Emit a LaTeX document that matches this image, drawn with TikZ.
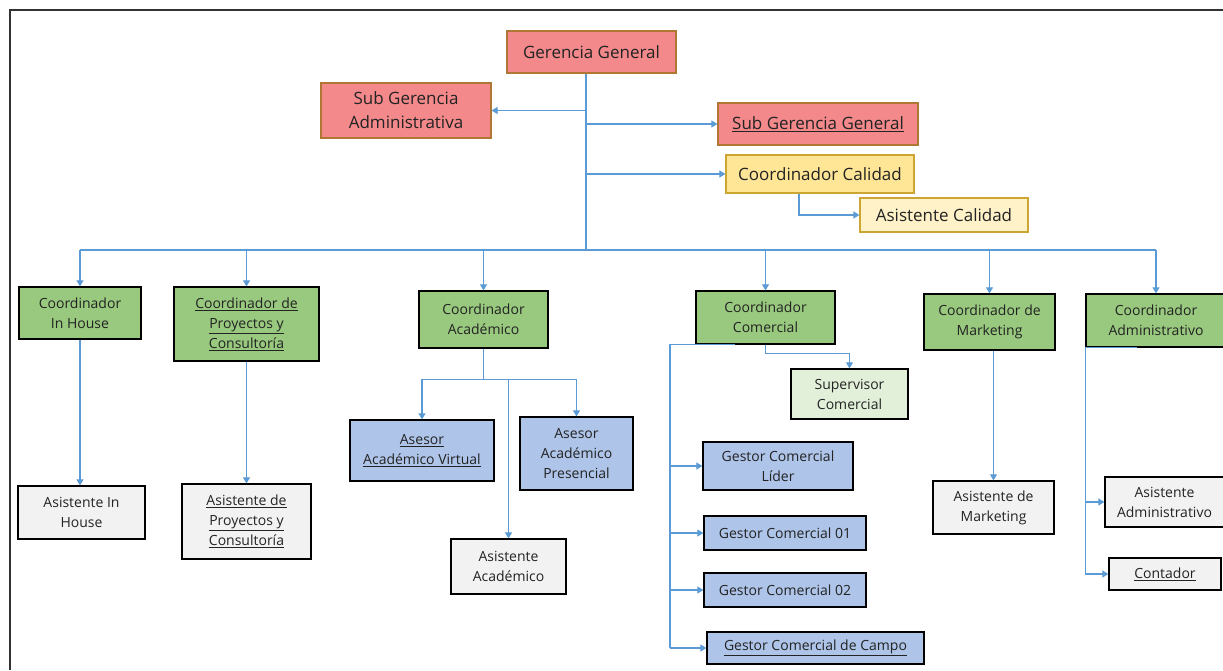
\documentclass[tikz,border=0pt]{standalone}
\usepackage{fontspec}
\setmainfont{Open Sans}
\usetikzlibrary{arrows.meta,calc}
\definecolor{pinkf}{RGB}{243,137,139}
\definecolor{pinkd}{RGB}{176,118,52}
\definecolor{yelf}{RGB}{255,229,150}
\definecolor{yellf}{RGB}{255,242,200}
\definecolor{yeld}{RGB}{205,165,50}
\definecolor{greenf}{RGB}{152,201,126}
\definecolor{lgreenf}{RGB}{226,240,217}
\definecolor{bluef}{RGB}{174,196,232}
\definecolor{grayf}{RGB}{242,242,242}
\definecolor{lb}{RGB}{91,155,213}
\definecolor{txt}{RGB}{35,35,35}
\definecolor{frame}{RGB}{50,50,50}
\begin{document}
\begin{tikzpicture}[x=1pt,y=-1pt,
  base/.style={align=center, inner sep=2pt, text=txt},
  big/.style={base, font=\fontsize{17}{24}\selectfont},
  small/.style={base, font=\fontsize{14}{20}\selectfont},
  pinkbox/.style={big, draw=pinkd, fill=pinkf, line width=1.2pt},
  yelbox/.style={big, draw=yeld, fill=yelf, line width=1.2pt},
  yellbox/.style={big, draw=yeld, fill=yellf, line width=1.2pt},
  greenbox/.style={small, draw=black, fill=greenf, line width=1.3pt},
  lgreenbox/.style={small, draw=black, fill=lgreenf, line width=1.3pt},
  bluebox/.style={small, draw=black, fill=bluef, line width=1.3pt},
  graybox/.style={small, draw=black, fill=grayf, line width=1.3pt},
  wh/.style 2 args={minimum width=#1pt, minimum height=#2pt},
  trunk/.style={draw=lb, line width=2.6pt},
  busline/.style={draw=lb, line width=2pt},
  line/.style={draw=lb, line width=1.2pt},
  conn/.style={draw=lb, line width=1.1pt, -{Triangle[width=7pt,length=6pt]}}
]
\useasboundingbox (0,0) rectangle (1223,670);
\fill[white] (0,0) rectangle (1223,670);
\draw[frame, line width=2pt] (10,670) -- (10,10) -- (1223,10);

% top level
\node[pinkbox, wh={169}{42}] (gg) at (591.5,52) {Gerencia General};
\node[pinkbox, wh={170}{55}] (sga) at (406,110.5) {Sub Gerencia\\Administrativa};
\node[pinkbox, wh={200}{42}] (sgg) at (818,124) {\underline{Sub Gerencia General}};
\node[yelbox, wh={188}{38}] (cc) at (820,174) {Coordinador Calidad};
\node[yellbox, wh={168}{34}] (asc) at (944,215) {Asistente Calidad};

% coordinators
\node[greenbox, wh={122}{52}] (cih) at (80,313) {Coordinador\\In House};
\node[greenbox, wh={145}{74}] (cpc) at (246.5,324) {\underline{Coordinador de}\\\underline{Proyectos y}\\\underline{Consultoría}};
\node[greenbox, wh={129}{57}] (cac) at (483.5,319.5) {Coordinador\\Académico};
\node[greenbox, wh={139}{53}] (cco) at (765.5,317.5) {Coordinador\\Comercial};
\node[greenbox, wh={131}{56}] (cma) at (989.5,322) {Coordinador de\\Marketing};
\node[greenbox, wh={140}{53}] (cad) at (1156,320.5) {Coordinador\\Administrativo};

% second level
\node[graybox, wh={127}{53}] (aih) at (81.5,512.5) {Asistente In\\House};
\node[graybox, wh={129}{75}] (apc) at (246.5,521.5) {\underline{Asistente de}\\\underline{Proyectos y}\\\underline{Consultoría}};
\node[bluebox, wh={144}{61}] (aav) at (422,450.5) {\underline{Asesor}\\\underline{Académico Virtual}};
\node[bluebox, wh={113}{73}] (aap) at (576.5,453.5) {Asesor\\Académico\\Presencial};
\node[graybox, wh={115}{55}] (aa) at (508.5,566.5) {Asistente\\Académico};
\node[lgreenbox, wh={117}{50}] (sc) at (849.5,394) {Supervisor\\Comercial};
\node[bluebox, wh={150}{48}] (gcl) at (778,466) {Gestor Comercial\\Líder};
\node[bluebox, wh={162}{34}] (g01) at (785,533) {Gestor Comercial 01};
\node[bluebox, wh={162}{34}] (g02) at (785,590) {Gestor Comercial 02};
\node[bluebox, wh={217}{32}] (gcc) at (815.5,648) {\underline{Gestor Comercial de Campo}};
\node[graybox, wh={121}{53}] (am) at (993.5,507.5) {Asistente de\\Marketing};
\node[graybox, wh={119}{50}] (aad) at (1164.5,502) {Asistente\\Administrativo};
\node[graybox, wh={112}{32}] (cont) at (1165,574) {\underline{Contador}};

% top connectors
\coordinate (bus) at (586,250);
\draw[trunk] (gg.south -| bus) -- (bus);
\draw[conn] (sga.east -| bus) -- (sga.east);
\draw[conn] (sgg.west -| bus) -- (sgg.west);
\draw[conn] (cc.west -| bus) -- (cc.west);
\draw[conn] ([xshift=-21pt]cc.south) |- (asc.west);

% bus
\draw[busline] (cih.north |- bus) -- (cad.north |- bus);
\foreach \n in {cih,cpc,cac,cco,cma,cad}
  \draw[conn] (\n.north |- bus) -- (\n.north);

% in house, proyectos, marketing
\draw[conn] (cih.south) -- (cih.south |- aih.north);
\draw[conn] (cpc.south) -- (apc.north);
\draw[conn] (am.north |- cma.south) -- (am.north);

% academico
\draw[line] (cac.south) -- ++(0,31) coordinate (acj);
\draw[conn] (acj) -| (aav.north);
\draw[conn] (acj) -| (aap.north);
\draw[conn] (aa.north |- acj) -- (aa.north);

% comercial
\coordinate (cv) at (670,0);
\draw[line] ([xshift=40pt]cco.south west) -- (cco.south west -| cv) -- (gcc.west -| cv);
\draw[conn] (gcl.west -| cv) -- (gcl.west);
\draw[conn] (g01.west -| cv) -- (g01.west);
\draw[conn] (g02.west -| cv) -- (g02.west);
\draw[conn] (gcc.west -| cv) -- (gcc.west);
\draw[conn] (cco.south) -- ++(0,9) -| (sc.north);

% administrativo
\draw[line] ([xshift=52pt]cad.south west) -- (cad.south west) -- (cad.south west |- cont.west);
\draw[conn] (aad.west -| cad.south west) -- (aad.west);
\draw[conn] (cont.west -| cad.south west) -- (cont.west);
\end{tikzpicture}
\end{document}
